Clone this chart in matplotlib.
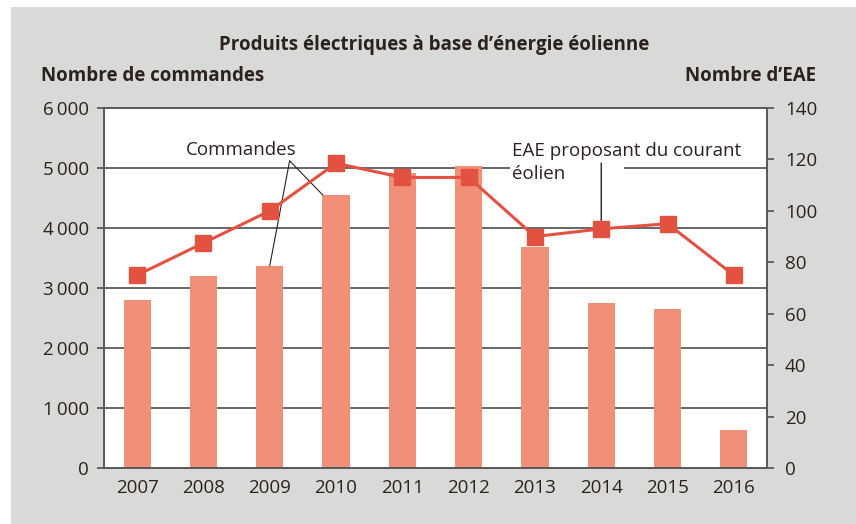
# Produits électriques à base d'énergie éolienne - bars + line on twin axis

from matplotlib import pyplot as plt
from matplotlib.patches import Rectangle
import numpy as np

years = ['2007', '2008', '2009', '2010', '2011', '2012', '2013', '2014', '2015', '2016']
commandes = [2800, 3200, 3370, 4550, 4920, 5030, 3680, 2750, 2650, 630]
eae = [75, 87.5, 100, 118.5, 113, 113, 90, 93, 95, 75]

bar_color = '#f09079'
line_color = '#e35241'
txt_color = '#2b2220'
grid_color = '#5a5a5a'
bg_color = '#d9d9d7'
fs = 13.5

plt.rcParams['font.family'] = ['Open Sans', 'DejaVu Sans']
plt.rcParams['text.color'] = txt_color

fig = plt.figure(figsize=(8.56, 5.24), dpi=100)
fig.patch.set_facecolor('white')
# grey panel behind the chart (white strip on top and left)
fig.patches.append(Rectangle((11 / 856, 0), 1, (524 - 7) / 524, transform=fig.transFigure,
                             facecolor=bg_color, edgecolor='none', zorder=-10))

ax = fig.add_axes([104 / 856, 56 / 524, 663 / 856, 360 / 524])
ax.set_facecolor('white')
x = np.arange(len(years))

ax.set_axisbelow(True)
ax.bar(x, commandes, width=0.41, color=bar_color, zorder=2)
ax.set_xlim(-0.5, len(years) - 0.5)
ax.set_ylim(0, 6000)
ax.set_yticks(np.arange(0, 6001, 1000))
ax.set_yticklabels([f'{v:,}'.replace(',', '\u2009') if v >= 1000 else str(v) for v in range(0, 6001, 1000)])
ax.yaxis.grid(True, color=grid_color, linewidth=1.3)
ax.set_xticks(x)
ax.set_xticklabels(years)
ax.tick_params(axis='x', length=0, pad=8, labelsize=fs, colors=txt_color)
ax.tick_params(axis='y', length=5, width=1.3, color=grid_color, pad=6, labelsize=fs, labelcolor=txt_color)
for s in ax.spines.values():
    s.set_color(grid_color)
    s.set_linewidth(1.3)

ax2 = ax.twinx()
ax2.plot(x, eae, color=line_color, linewidth=2.2, marker='s', markersize=11.5, zorder=5)
ax2.set_ylim(0, 140)
ax2.set_yticks(np.arange(0, 141, 20))
ax2.tick_params(axis='y', length=5, width=1.3, color=grid_color, pad=8, labelsize=fs, labelcolor=txt_color)
for s in ax2.spines.values():
    s.set_color(grid_color)
    s.set_linewidth(1.3)

# annotation "Commandes"
ax.text(1.57, 5300, 'Commandes', fontsize=fs, ha='center', va='center', zorder=6)
apex = (2.3, 5120)
ax.annotate('', xy=(2, commandes[2]), xytext=apex,
            arrowprops=dict(arrowstyle='-', color=txt_color, lw=0.8, shrinkA=0, shrinkB=0), zorder=6)
ax.annotate('', xy=(3 - 0.2, commandes[3]), xytext=apex,
            arrowprops=dict(arrowstyle='-', color=txt_color, lw=0.8, shrinkA=0, shrinkB=0), zorder=6)

# annotation "EAE proposant du courant eolien"
ax.add_patch(Rectangle((5.62, 4800), 1.72, 450, facecolor='white', edgecolor='none', zorder=1))
ax2.text(5.65, 118.8, 'EAE proposant du courant\néolien', fontsize=fs, ha='left', va='center',
         linespacing=1.3, zorder=6)
ax2.annotate('', xy=(7, eae[7]), xytext=(7, 118.6),
             arrowprops=dict(arrowstyle='-', color=txt_color, lw=1.0, shrinkA=0, shrinkB=0), zorder=4)

fig.text(434 / 856, 1 - 45 / 524, 'Produits électriques à base d\u2019énergie éolienne',
         fontsize=fs, fontweight='bold', ha='center', va='center')
fig.text(41 / 856, 1 - 76 / 524, 'Nombre de commandes', fontsize=fs, fontweight='bold',
         ha='left', va='center')
fig.text(816 / 856, 1 - 76 / 524, 'Nombre d\u2019EAE', fontsize=fs, fontweight='bold',
         ha='right', va='center')

fig.savefig('out.png', dpi=100)
